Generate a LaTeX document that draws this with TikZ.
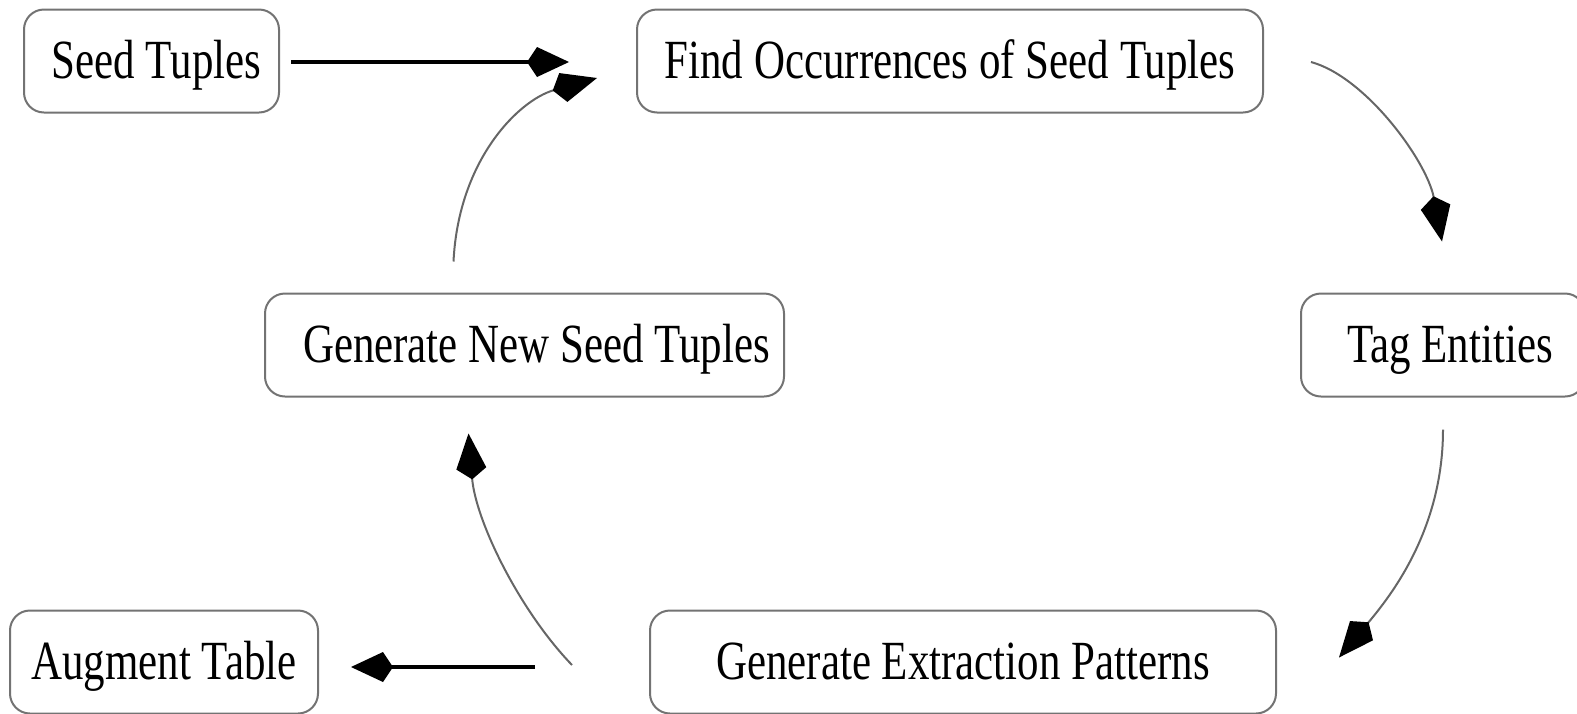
\documentclass[tikz,border=0pt]{standalone}
\usepackage{fontspec}
\usepackage{graphicx}
\setmainfont{Liberation Serif}
\usetikzlibrary{arrows.meta,calc}

% tall, narrow label text, set with its baseline below the node centre
\newcommand{\boxlabel}[1]{\raisebox{-17pt}[0pt][0pt]{\scalebox{1.01}[1.3]{#1}}}

\tikzset{
  stage/.style={draw=black!55, line width=2pt, rounded corners=20pt, fill=white,
    inner sep=0pt, minimum height=103pt,
    font=\fontsize{42.5}{50}\selectfont},
  flowline/.style={line width=3.5pt, black,
    -{Kite[length=42pt,width=30pt,inset=10pt]}},
  loopline/.style={line width=2pt, black!60,
    -{Kite[length=46pt,width=30pt,inset=11pt,color=black]}},
}

\begin{document}
\begin{tikzpicture}[x=1pt,y=-1pt]
  \useasboundingbox (0,0) rectangle (1577,713);

  % process stages
  \node[stage, minimum width=255pt] (seed)    at (151.5,61) {\hspace{10pt}\boxlabel{Seed Tuples}};
  \node[stage, minimum width=626pt] (find)    at (950,61)   {\boxlabel{Find Occurrences of Seed Tuples}};
  \node[stage, minimum width=284pt] (tag)     at (1443,345) {\hspace{14pt}\boxlabel{Tag Entities}};
  \node[stage, minimum width=519pt] (gennew)  at (524.5,345){\hspace{24pt}\boxlabel{Generate New Seed Tuples}};
  \node[stage, minimum width=308pt] (augment) at (164,662)  {\boxlabel{Augment Table}\hspace{10pt}};
  \node[stage, minimum width=626pt] (genext)  at (963,662)  {\boxlabel{Generate Extraction Patterns}};

  % loose ends of the connectors
  \coordinate (seedout)  at ($(seed.east)+(11,1)$);
  \coordinate (findin)   at ($(find.west)+(-67,1)$);
  \coordinate (findout)  at ($(find.east)+(47,1)$);
  \coordinate (tagin)    at ($(tag.north)+(-1,-51)$);
  \coordinate (tagout)   at ($(tag.south)+(0,32)$);
  \coordinate (extin)    at ($(genext.north east)+(62,48)$);
  \coordinate (extout)   at ($(genext.west)+(-77,3)$);
  \coordinate (augin)    at ($(augment.east)+(32,5)$);
  \coordinate (augsrc)   at ($(genext.west)+(-114,5)$);
  \coordinate (newin)    at ($(gennew.south)+(-56,36)$);
  \coordinate (newout)   at ($(gennew.north)+(-71,-31)$);
  \coordinate (findin2)  at ($(find.west)+(-39,17)$);

  % straight flows
  \draw[flowline] (seedout) -- (findin);
  \draw[flowline] (augsrc) -- (augin);

  % the cycle
  \draw[loopline] (findout) .. controls ($(findout)+(55,15)$) and ($(tagin)+(-15,-80)$) .. (tagin);
  \draw[loopline] (tagout) .. controls ($(tagout)+(0,100)$) and ($(extin)+(52,-62)$) .. (extin);
  \draw[loopline] (extout) .. controls ($(extout)+(-53,-55)$) and ($(newin)+(7,87)$) .. (newin);
  \draw[loopline] (newout) .. controls ($(newout)+(5,-102)$) and ($(findin2)+(-78,22)$) .. (findin2);
\end{tikzpicture}
\end{document}
